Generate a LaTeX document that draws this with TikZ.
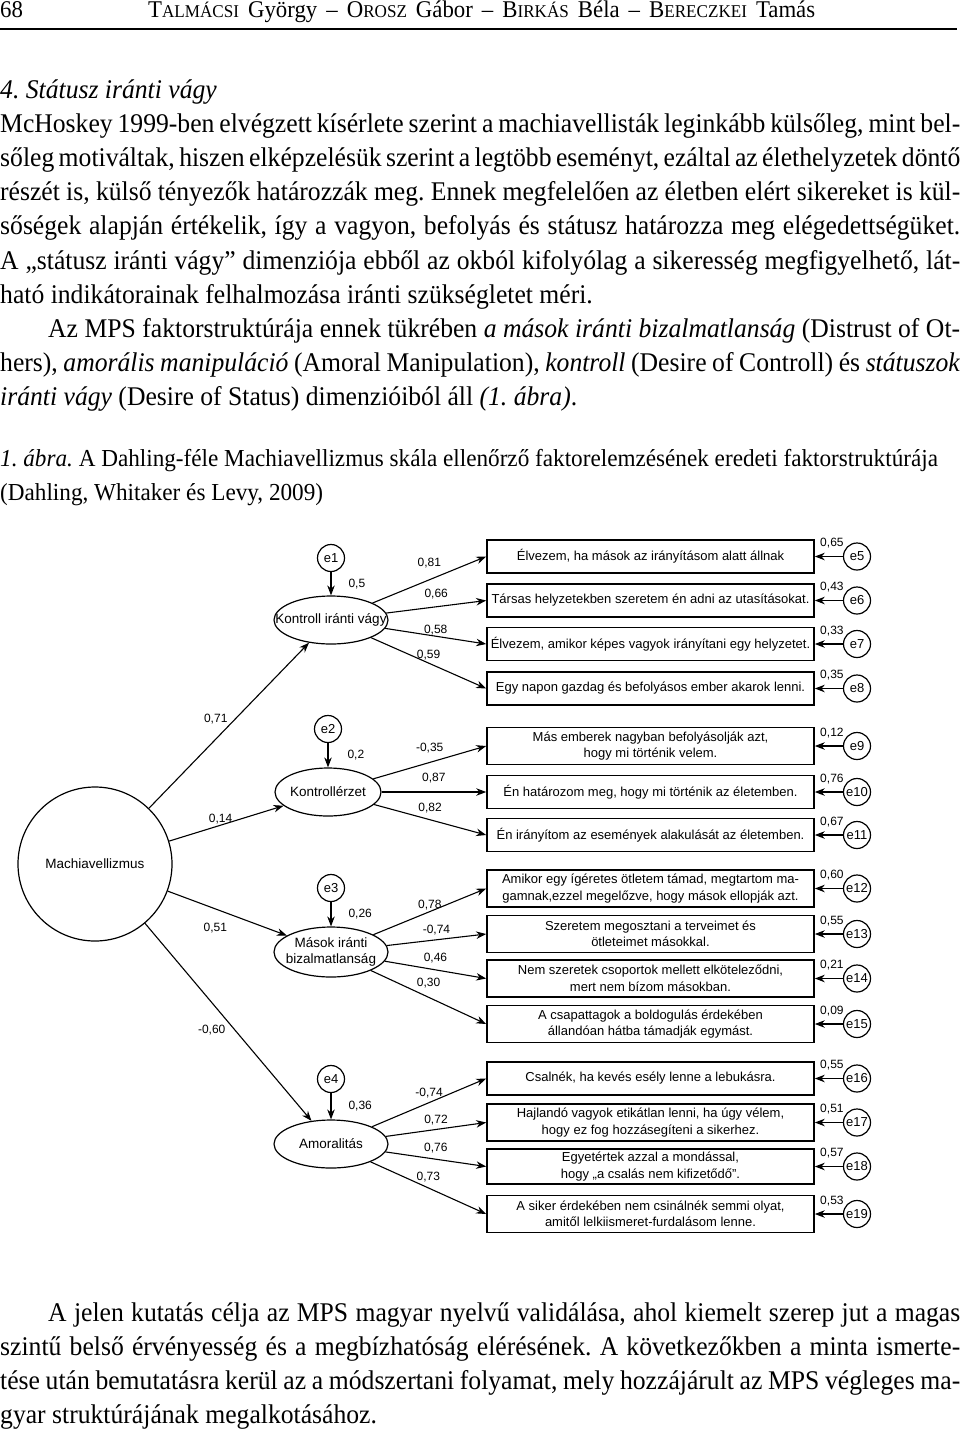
\documentclass[tikz,border=0pt]{standalone}
\usepackage{fontspec}
\setmainfont{Liberation Serif}[FakeStretch=0.95]
\newfontfamily\diagfont{Liberation Sans}
\usetikzlibrary{arrows.meta,shapes.geometric,positioning}
\frenchspacing

% small caps made by hand (the serif has none)
\newcommand{\smc}[2]{#1{\fontsize{18}{18}\selectfont #2}}
% one justified line of the page text
\newcommand{\jline}[1]{\makebox[\linewidth][s]{#1}}
\newcommand{\iline}[1]{\hspace*{48pt}\makebox[912pt][s]{#1}}

\begin{document}
\begin{tikzpicture}[x=1pt, y=-1pt,
    item/.style={draw, line width=1.6pt, minimum width=327pt, minimum height=33pt,
        align=center, inner sep=2pt, font=\diagfont\fontsize{13}{16.5}\selectfont},
    itemtwo/.style={item, minimum height=37pt},
    err/.style={draw, circle, line width=1.2pt, minimum size=27pt, inner sep=0pt,
        font=\diagfont\fontsize{13}{13}\selectfont},
    latent/.style={draw, ellipse, line width=1.2pt, minimum width=114pt,
        minimum height=48pt, inner sep=0pt},
    factor/.style={draw, circle, line width=1.2pt, minimum size=154pt,
        font=\diagfont\fontsize{13.5}{15}\selectfont},
    lname/.style={align=center, inner sep=0pt, font=\diagfont\fontsize{13.5}{15.5}\selectfont},
    lbl/.style={inner sep=1pt, font=\diagfont\fontsize{12}{12}\selectfont},
    arr/.style={-{Stealth[length=10pt,width=7.5pt]}, line width=1.1pt},
    page/.style={anchor=base west, inner sep=0pt}]

    \fill[white] (0,0) rectangle (960,1433);
    \useasboundingbox (0,0) rectangle (960,1433);

    % running head
    \node[page, font=\fontsize{24}{24}\selectfont] (pagenum) at (0,17) {68};
    \node[page, font=\fontsize{24}{24}\selectfont] (running) at (148,17)
        {\makebox[667pt][s]{\smc{T}{ALMÁCSI} György – \smc{O}{ROSZ} Gábor – \smc{B}{IRKÁS} Béla – \smc{B}{ERECZKEI} Tamás}};
    \draw[line width=2pt] (0,29) -- (957,29);

    % text above the figure
    \node[page] (intro) at (0,98) {\begin{minipage}[t]{960pt}\fontsize{27}{34.2}\selectfont
        \textit{4. Státusz iránti vágy}\\
        \jline{McHoskey 1999-ben elvégzett kísérlete szerint a machiavellisták leginkább külsőleg, mint bel-}\\
        \jline{sőleg motiváltak, hiszen elképzelésük szerint a legtöbb eseményt, ezáltal az élethelyzetek döntő}\\
        \jline{részét is, külső tényezők határozzák meg. Ennek megfelelően az életben elért sikereket is kül-}\\
        \jline{sőségek alapján értékelik, így a vagyon, befolyás és státusz határozza meg elégedettségüket.}\\
        \jline{A „státusz iránti vágy” dimenziója ebből az okból kifolyólag a sikeresség megfigyelhető, lát-}\\
        ható indikátorainak felhalmozása iránti szükségletet méri.\\
        \iline{Az MPS faktorstruktúrája ennek tükrében \textit{a mások iránti bizalmatlanság} (Distrust of Ot-}\\
        \jline{hers), \textit{amorális manipuláció} (Amoral Manipulation), \textit{kontroll} (Desire of Controll) és \textit{státuszok}}\\
        \textit{iránti vágy} (Desire of Status) dimenzióiból áll \textit{(1. ábra)}.
    \end{minipage}};

    % caption
    \node[page] (caption) at (0,466) {\begin{minipage}[t]{960pt}\fontsize{24.4}{34.2}\selectfont
        \textit{1. ábra.} A Dahling-féle Machiavellizmus skála ellenőrző faktorelemzésének eredeti faktorstruktúrája\\
        (Dahling, Whitaker és Levy, 2009)
    \end{minipage}};

    % items
    \node[item] (b5) at (650.5,556.5) {Élvezem, ha mások az irányításom alatt állnak};
    \node[item] (b6) at (650.5,600.5) {Társas helyzetekben szeretem én adni az utasításokat.};
    \node[item] (b7) at (650.5,644) {Élvezem, amikor képes vagyok irányítani egy helyzetet.};
    \node[item] (b8) at (650.5,688.5) {Egy napon gazdag és befolyásos ember akarok lenni.};
    \node[itemtwo] (b9) at (650.5,746) {Más emberek nagyban befolyásolják azt,\\ hogy mi történik velem.};
    \node[item] (b10) at (650.5,792) {Én határozom meg, hogy mi történik az életemben.};
    \node[item] (b11) at (650.5,835) {Én irányítom az események alakulását az életemben.};
    \node[itemtwo] (b12) at (650.5,888.5) {Amikor egy ígéretes ötletem támad, megtartom ma-\\gamnak,ezzel megelőzve, hogy mások ellopják azt.};
    \node[itemtwo] (b13) at (650.5,934) {Szeretem megosztani a terveimet és\\ ötleteimet másokkal.};
    \node[itemtwo] (b14) at (650.5,978.5) {Nem szeretek csoportok mellett elköteleződni,\\ mert nem bízom másokban.};
    \node[itemtwo] (b15) at (650.5,1024) {A csapattagok a boldogulás érdekében\\ állandóan hátba támadják egymást.};
    \node[item] (b16) at (650.5,1078.5) {Csalnék, ha kevés esély lenne a lebukásra.};
    \node[itemtwo] (b17) at (650.5,1122.5) {Hajlandó vagyok etikátlan lenni, ha úgy vélem,\\ hogy ez fog hozzásegíteni a sikerhez.};
    \node[item, minimum height=35pt] (b18) at (650.5,1166.5) {Egyetértek azzal a mondással,\\ hogy „a csalás nem kifizetődő”.};
    \node[itemtwo] (b19) at (650.5,1214) {A siker érdekében nem csinálnék semmi olyat,\\ amitől lelkiismeret-furdalásom lenne.};

    % item errors
    \node[err, label={[lbl]150:{0,65}}] (e5) at (857,556.5) {e5};
    \node[err, label={[lbl]150:{0,43}}] (e6) at (857,600.5) {e6};
    \node[err, label={[lbl]150:{0,33}}] (e7) at (857,644) {e7};
    \node[err, label={[lbl]150:{0,35}}] (e8) at (857,688.5) {e8};
    \node[err, label={[lbl]150:{0,12}}] (e9) at (857,746) {e9};
    \node[err, label={[lbl]150:{0,76}}] (e10) at (857,792) {e10};
    \node[err, label={[lbl]150:{0,67}}] (e11) at (857,835) {e11};
    \node[err, label={[lbl]150:{0,60}}] (e12) at (857,888.5) {e12};
    \node[err, label={[lbl]150:{0,55}}] (e13) at (857,934) {e13};
    \node[err, label={[lbl]150:{0,21}}] (e14) at (857,978.5) {e14};
    \node[err, label={[lbl]150:{0,09}}] (e15) at (857,1024) {e15};
    \node[err, label={[lbl]150:{0,55}}] (e16) at (857,1078.5) {e16};
    \node[err, label={[lbl]150:{0,51}}] (e17) at (857,1122.5) {e17};
    \node[err, label={[lbl]150:{0,57}}] (e18) at (857,1166.5) {e18};
    \node[err, label={[lbl]150:{0,53}}] (e19) at (857,1214) {e19};
    \foreach \i in {5,...,19}
        \draw[arr] (e\i) -- (b\i);

    % factors
    \node[factor] (mach) at (95,864) {Machiavellizmus};
    \node[latent, label={[lname]center:Kontroll iránti vágy}] (kiv) at (331,620) {};
    \node[latent, minimum width=106pt, label={[lname]center:Kontrollérzet}] (kerz) at (328,792) {};
    \node[latent, minimum height=50pt, label={[lname]center:Mások iránti\\bizalmatlanság}] (mba) at (331,952) {};
    \node[latent, label={[lname]center:Amoralitás}] (amor) at (331,1144) {};

    \node[err] (e1) at (331,558) {e1};
    \node[err] (e2) at (328,729) {e2};
    \node[err] (e3) at (331,888) {e3};
    \node[err] (e4) at (331,1079) {e4};
    \draw[arr] (e1) -- node[lbl, midway, right=16pt] {0,5} (kiv);
    \draw[arr] (e2) -- node[lbl, midway, right=18pt] {0,2} (kerz);
    \draw[arr] (e3) -- node[lbl, midway, right=16pt] {0,26} (mba);
    \draw[arr] (e4) -- node[lbl, midway, right=16pt] {0,36} (amor);

    % second order paths
    \draw[arr] (mach) -- node[lbl, pos=.5, above left] {0,71} (kiv);
    \draw[arr] (mach) -- node[lbl, pos=.45, above] {0,14} (kerz);
    \draw[arr] (mach) -- node[lbl, pos=.4, below=13pt] {0,51} (mba);
    \draw[arr] (mach) -- node[lbl, pos=.54, left=8pt] {-0,60} (amor);

    % loadings
    \draw[arr] (kiv) -- node[lbl, pos=.5, above=10pt] {0,81} (b5.west);
    \draw[arr] (kiv) -- node[lbl, pos=.5, above=6pt] {0,66} (b6.west);
    \draw[arr] (kiv) -- node[lbl, pos=.5, above=0pt] {0,58} (b7.west);
    \draw[arr] (kiv) -- node[lbl, pos=.5, above=2pt] {0,59} (b8.west);
    \draw[arr] (kerz) -- node[lbl, pos=.5, above=8pt] {-0,35} (b9.west);
    \draw[arr] (kerz) -- node[lbl, pos=.5, above=7pt] {0,87} (b10.west);
    \draw[arr] (kerz) -- node[lbl, pos=.5, above=5pt] {0,82} (b11.west);
    \draw[arr] (mba) -- node[lbl, pos=.5, above=0pt] {0,78} (b12.west);
    \draw[arr] (mba) -- node[lbl, pos=.5, above=3pt] {-0,74} (b13.west);
    \draw[arr] (mba) -- node[lbl, pos=.5, above=5pt] {0,46} (b14.west);
    \draw[arr] (mba) -- node[lbl, pos=.5, above=8pt] {0,30} (b15.west);
    \draw[arr] (amor) -- node[lbl, pos=.5, above=3pt] {-0,74} (b16.west);
    \draw[arr] (amor) -- node[lbl, pos=.5, above=3pt] {0,72} (b17.west);
    \draw[arr] (amor) -- node[lbl, pos=.5, above=5pt] {0,76} (b18.west);
    \draw[arr] (amor) -- node[lbl, pos=.5, above=4pt] {0,73} (b19.west);

    % text below the figure
    \node[page] (closing) at (0,1321) {\begin{minipage}[t]{960pt}\fontsize{27}{34.2}\selectfont
        \iline{A jelen kutatás célja az MPS magyar nyelvű validálása, ahol kiemelt szerep jut a magas}\\
        \jline{szintű belső érvényesség és a megbízhatóság elérésének. A következőkben a minta ismerte-}\\
        \jline{tése után bemutatásra kerül az a módszertani folyamat, mely hozzájárult az MPS végleges ma-}\\
        gyar struktúrájának megalkotásához.
    \end{minipage}};
\end{tikzpicture}
\end{document}
